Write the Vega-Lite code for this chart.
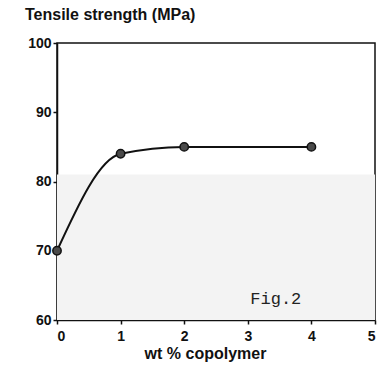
{
  "$schema": "https://vega.github.io/schema/vega-lite/v6.json",
  "autosize": "none",
  "width": 318,
  "height": 277,
  "padding": {"left": 57, "top": 43, "right": 2, "bottom": 46},
  "background": "white",
  "title": {
    "text": "Tensile strength (MPa)",
    "anchor": "start",
    "frame": "group",
    "dx": -32,
    "offset": 0,
    "baseline": "alphabetic",
    "font": "Liberation Sans",
    "fontSize": 16,
    "fontWeight": "bold",
    "color": "#111"
  },
  "config": {
    "view": {"stroke": "#111", "strokeWidth": 1.5},
    "axis": {
      "grid": false,
      "domainColor": "#111",
      "domainWidth": 1.5,
      "tickColor": "#111",
      "tickWidth": 1.5,
      "labelFont": "Liberation Sans",
      "labelFontWeight": "bold",
      "labelFontSize": 14,
      "labelColor": "#111",
      "titleFont": "Liberation Sans",
      "titleFontWeight": "bold",
      "titleFontSize": 16,
      "titleColor": "#111"
    }
  },
  "datasets": {
    "pts": [
      {"wt": 0, "ts": 70},
      {"wt": 1, "ts": 84},
      {"wt": 2, "ts": 85},
      {"wt": 4, "ts": 85}
    ],
    "shade": [{"x0": 0, "x1": 5, "y0": 60, "y1": 81}],
    "note": [{"wt": 3.44, "ts": 62.3, "label": "Fig.2"}]
  },
  "layer": [
    {
      "data": {"name": "shade"},
      "mark": {"type": "rect", "fill": "#f3f3f3"},
      "encoding": {
        "x": {"field": "x0", "type": "quantitative", "scale": {"domain": [0, 5], "nice": false}},
        "x2": {"field": "x1"},
        "y": {"field": "y0", "type": "quantitative", "scale": {"domain": [60, 100], "nice": false}},
        "y2": {"field": "y1"}
      }
    },
    {
      "data": {"name": "pts"},
      "mark": {"type": "line", "interpolate": "monotone", "color": "#111", "strokeWidth": 2},
      "encoding": {
        "x": {
          "field": "wt", "type": "quantitative",
          "scale": {"domain": [0, 5], "nice": false},
          "axis": {
            "values": [0, 0.5, 1, 1.5, 2, 2.5, 3, 3.5, 4, 4.5, 5],
            "labelExpr": "datum.value % 1 === 0 ? format(datum.value, 'd') : ''",
            "tickSize": 4,
            "labelPadding": 5,
            "title": "wt % copolymer",
            "titleX": 148,
            "titlePadding": 2
          }
        },
        "y": {
          "field": "ts", "type": "quantitative",
          "scale": {"domain": [60, 100], "nice": false},
          "axis": {
            "values": [60, 65, 70, 75, 80, 85, 90, 95, 100],
            "labelExpr": "datum.value % 10 === 0 ? format(datum.value, 'd') : ''",
            "tickSize": 4,
            "labelPadding": 2,
            "title": null
          }
        }
      }
    },
    {
      "data": {"name": "pts"},
      "mark": {"type": "point", "filled": true, "fill": "#4a4a4a", "stroke": "#111", "strokeWidth": 1.5, "size": 70, "opacity": 1},
      "encoding": {
        "x": {"field": "wt", "type": "quantitative"},
        "y": {"field": "ts", "type": "quantitative"}
      }
    },
    {
      "data": {"name": "note"},
      "mark": {"type": "text", "font": "Liberation Mono", "fontSize": 17, "color": "#222", "baseline": "alphabetic"},
      "encoding": {
        "x": {"field": "wt", "type": "quantitative"},
        "y": {"field": "ts", "type": "quantitative"},
        "text": {"field": "label"}
      }
    }
  ]
}
